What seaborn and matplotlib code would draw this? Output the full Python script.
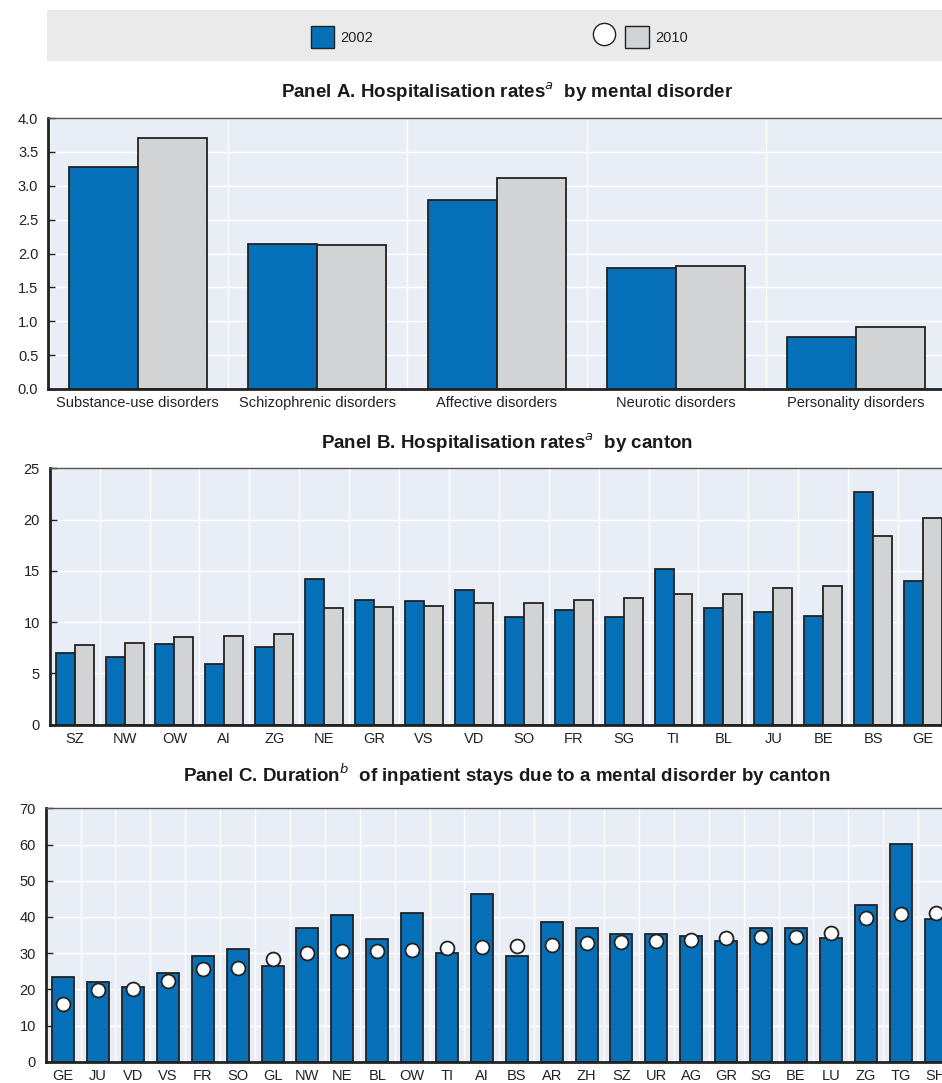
import numpy as np
import pandas as pd
import seaborn as sns
import matplotlib.pyplot as plt
from matplotlib.patches import Rectangle, Patch
from matplotlib.lines import Line2D
from matplotlib.legend_handler import HandlerTuple

# Panel A - hospitalisation rates by mental disorder
disorders = ["Substance-use disorders", "Schizophrenic disorders", "Affective disorders",
             "Neurotic disorders", "Personality disorders"]
disorder_2002 = [3.28, 2.14, 2.79, 1.78, 0.77]
disorder_2010 = [3.70, 2.13, 3.12, 1.82, 0.92]

# Panel B - hospitalisation rates by canton
cantons_b = ["SZ", "NW", "OW", "AI", "ZG", "NE", "GR", "VS", "VD", "SO", "FR", "SG",
             "TI", "BL", "JU", "BE", "BS", "GE"]
canton_b_2002 = [6.96, 6.63, 7.83, 5.88, 7.57, 14.2, 12.18, 12.02, 13.1, 10.53, 11.18, 10.5,
                 15.2, 11.34, 10.98, 10.56, 22.7, 14.0]
canton_b_2010 = [7.74, 7.99, 8.58, 8.64, 8.81, 11.37, 11.47, 11.6, 11.86, 11.86, 12.12, 12.32,
                 12.71, 12.77, 13.35, 13.52, 18.42, 20.15]

# Panel C - duration of inpatient stays by canton
cantons_c = ["GE", "JU", "VD", "VS", "FR", "SO", "GL", "NW", "NE", "BL", "OW", "TI", "AI",
             "BS", "AR", "ZH", "SZ", "UR", "AG", "GR", "SG", "BE", "LU", "ZG", "TG", "SH"]
stay_2002 = [23.4, 22.1, 20.7, 24.6, 29.3, 31.1, 26.4, 37.0, 40.4, 34.0, 41.0, 30.0, 46.2,
             29.2, 38.6, 36.9, 35.4, 35.2, 34.8, 33.3, 36.9, 36.9, 34.3, 43.3, 60.1, 39.5]
stay_2010 = [16.0, 19.7, 20.2, 22.2, 25.6, 25.8, 28.4, 30.1, 30.5, 30.7, 30.9, 31.3, 31.8,
             32.0, 32.2, 32.8, 33.2, 33.4, 33.7, 34.2, 34.4, 34.5, 35.6, 39.6, 40.8, 41.1]

BLUE = "#0570B8"
GREY = "#D2D3D5"
EDGE = "#222222"
BG = "#E9EDF5"

sns.set_theme(style="white")
plt.rcParams["font.family"] = ["Liberation Sans Narrow", "Liberation Sans", "DejaVu Sans"]
plt.rcParams["font.size"] = 10

W, H = 942, 1083
fig = plt.figure(figsize=(W / 100, H / 100), dpi=100)


def px_axes(left, top, right, bottom):
    return fig.add_axes([left / W, 1 - bottom / H, (right - left) / W, (bottom - top) / H])


def style_axes(ax, n, ymax, step, fmt):
    ax.set_facecolor(BG)
    ax.set_xlim(-0.5, n - 0.5)
    ax.set_ylim(0, ymax)
    ticks = np.arange(0, ymax + step / 2, step)
    ax.set_yticks(ticks)
    ax.set_yticklabels([fmt.format(v) for v in ticks])
    ax.set_xticks(np.arange(n) + 0.5, minor=True)
    ax.grid(True, axis="y", which="major", color="white", lw=1.0)
    ax.grid(True, axis="x", which="minor", color="white", lw=1.0)
    ax.set_axisbelow(True)
    ax.tick_params(axis="y", direction="in", length=5, width=1, color=EDGE, pad=7,
                   labelsize=10.5, labelcolor="#222222", left=True)
    ax.tick_params(axis="x", which="both", length=0, pad=5, labelsize=10.5, labelcolor="#222222")
    for s in ["left", "bottom"]:
        ax.spines[s].set_color(EDGE)
        ax.spines[s].set_linewidth(2)
    ax.spines["top"].set_color("#555555")
    ax.spines["top"].set_linewidth(1)
    ax.spines["right"].set_visible(False)
    ax.set_xlabel("")
    ax.set_ylabel("")
    if ax.get_legend() is not None:
        ax.get_legend().remove()


# Panel A
df_a = pd.DataFrame({"cat": disorders * 2,
                     "val": disorder_2002 + disorder_2010,
                     "year": ["2002"] * 5 + ["2010"] * 5})
ax_a = px_axes(48, 118, 945.5, 389)
sns.barplot(data=df_a, x="cat", y="val", hue="year", palette=[BLUE, GREY], width=0.77,
            edgecolor=EDGE, linewidth=1.3, ax=ax_a, saturation=1)
style_axes(ax_a, 5, 4.0, 0.5, "{:.1f}")

# Panel B
df_b = pd.DataFrame({"cat": cantons_b * 2,
                     "val": canton_b_2002 + canton_b_2010,
                     "year": ["2002"] * 18 + ["2010"] * 18})
ax_b = px_axes(49.7, 468.3, 948, 724.7)
sns.barplot(data=df_b, x="cat", y="val", hue="year", palette=[BLUE, GREY], width=0.76,
            edgecolor=EDGE, linewidth=1.3, ax=ax_b, saturation=1)
style_axes(ax_b, 18, 25, 5, "{:.0f}")

# Panel C
df_c = pd.DataFrame({"cat": cantons_c, "v2002": stay_2002, "v2010": stay_2010})
ax_c = px_axes(45.7, 808.3, 953, 1061.7)
sns.barplot(data=df_c, x="cat", y="v2002", color=BLUE, width=0.63, edgecolor=EDGE,
            linewidth=1.3, ax=ax_c, saturation=1)
sns.stripplot(data=df_c, x="cat", y="v2010", jitter=False, color="white", edgecolor=EDGE,
              linewidth=1.3, size=10, ax=ax_c, zorder=5)
style_axes(ax_c, 26, 70, 10, "{:.0f}")
for coll in ax_c.collections:
    coll.set_clip_on(False)

# Panel titles
title_kw = dict(ha="center", va="center", fontsize=13.5, fontweight="bold", color="#1a1a1a")
fig.text(507 / W, 1 - 92 / H, r"Panel A. Hospitalisation rates$^{a}$  by mental disorder", **title_kw)
fig.text(507 / W, 1 - 443 / H, r"Panel B. Hospitalisation rates$^{a}$  by canton", **title_kw)
fig.text(507 / W, 1 - 775 / H,
         r"Panel C. Duration$^{b}$  of inpatient stays due to a mental disorder by canton", **title_kw)

# Legend band
fig.patches.append(Rectangle((47 / W, 1 - 61 / H), (W - 47) / W, 51 / H, transform=fig.transFigure,
                             facecolor="#EAEAEA", edgecolor="none", zorder=0))
h2002 = Patch(facecolor=BLUE, edgecolor=EDGE, linewidth=1)
h2010 = (Line2D([], [], marker="o", linestyle="none", markerfacecolor="white",
                markeredgecolor=EDGE, markersize=16),
         Patch(facecolor=GREY, edgecolor=EDGE, linewidth=1))
fig.legend([h2002], ["2002"], loc="center left", bbox_to_anchor=(298 / W, 1 - 37 / H),
           frameon=False, handlelength=1.6, handleheight=2.0, fontsize=10.5, handletextpad=0.4)
fig.legend([h2010], ["2010"], loc="center left", bbox_to_anchor=(578 / W, 1 - 37 / H),
           frameon=False, handlelength=4.0, handleheight=2.0, fontsize=10.5, handletextpad=0.4,
           handler_map={tuple: HandlerTuple(ndivide=None, pad=0.6)})

fig.savefig("out.png", dpi=100)
